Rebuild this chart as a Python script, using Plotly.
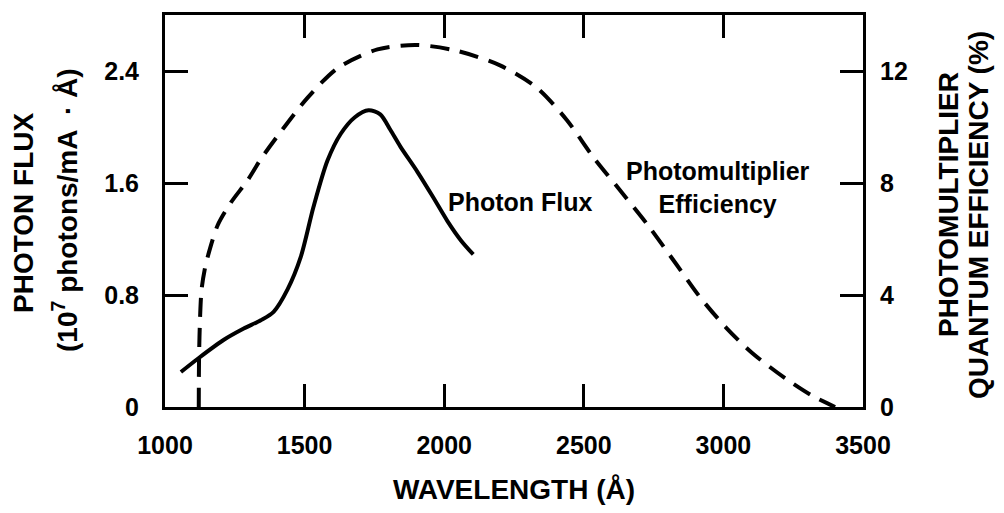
import plotly.graph_objects as go

# ---- data ----
wl_flux = [1057, 1121, 1211, 1282, 1343, 1389, 1439, 1486, 1532, 1582, 1629,
           1680, 1729, 1771, 1807, 1843, 1904, 1960, 2011, 2060, 2104]
photon_flux = [0.25, 0.35, 0.48, 0.56, 0.62, 0.68, 0.84, 1.07, 1.43, 1.76, 1.95,
               2.07, 2.12, 2.09, 1.98, 1.86, 1.68, 1.50, 1.33, 1.19, 1.09]

wl_eff = [1121, 1122, 1126, 1131, 1142, 1155, 1189, 1236, 1296, 1343, 1420,
          1511, 1618, 1761, 1900, 2046, 2200, 2332, 2439, 2532, 2629, 2729,
          2832, 2914, 3011, 3104, 3225, 3318, 3400]
pm_eff = [0.0, 1.8, 3.3, 4.2, 4.9, 5.44, 6.5, 7.3, 8.1, 8.85, 9.9,
          11.05, 12.1, 12.77, 12.93, 12.72, 12.2, 11.4, 10.25, 8.95, 7.75, 6.5,
          5.09, 3.95, 2.82, 1.92, 1.0, 0.4, 0.0]

x_ticks = [1000, 1500, 2000, 2500, 3000, 3500]
y_left_ticks = [0, 0.8, 1.6, 2.4]
y_left_labels = ["0", "0.8", "1.6", "2.4"]
y_right_ticks = [0, 4, 8, 12]
y_right_labels = ["0", "4", "8", "12"]

FONT = "Liberation Sans"
tickfont = dict(family=FONT, size=25, color="black", weight="bold")
titlefont = dict(family=FONT, size=28, color="black", weight="bold")
annfont = dict(family=FONT, size=25, color="black", weight="bold")

fig = go.Figure()
fig.add_trace(go.Scatter(
    x=wl_flux, y=photon_flux, mode="lines", name="Photon Flux",
    line=dict(color="black", width=4, shape="spline", smoothing=0.8),
    yaxis="y", showlegend=False, hoverinfo="skip"))
fig.add_trace(go.Scatter(
    x=wl_eff, y=pm_eff, mode="lines", name="Photomultiplier Efficiency",
    line=dict(color="black", width=4, dash="19px,11px", shape="spline", smoothing=0.8),
    yaxis="y2", showlegend=False, hoverinfo="skip"))

axis_common = dict(showgrid=False, zeroline=False, ticks="inside", ticklen=23,
                   tickwidth=2.5, tickcolor="black", showline=True,
                   linewidth=3, linecolor="black", tickfont=tickfont)

fig.update_layout(
    width=1004, height=513,
    margin=dict(l=165, r=141, t=13, b=101, pad=0),
    paper_bgcolor="white", plot_bgcolor="white",
    xaxis=dict(range=[1000, 3500], tickvals=x_ticks, mirror="ticks",
               ticklabelstandoff=14,
               title=dict(text="WAVELENGTH (Å)", font=titlefont, standoff=22),
               **axis_common),
    yaxis=dict(range=[0, 2.8], tickvals=y_left_ticks, ticktext=y_left_labels,
               mirror=True, ticklabelstandoff=18, **axis_common),
    yaxis2=dict(range=[0, 14], tickvals=y_right_ticks, ticktext=y_right_labels,
                overlaying="y", side="right", ticklabelstandoff=9, **axis_common),
    annotations=[
        dict(text="Photon Flux", x=2275, y=1.467, xref="x", yref="y",
             showarrow=False, font=annfont, xanchor="center", yanchor="middle"),
        dict(text="Photomultiplier<br>Efficiency", x=2982, y=1.57, xref="x", yref="y",
             showarrow=False, font=annfont, xanchor="center", yanchor="middle"),
        dict(text="PHOTON FLUX", x=0, xref="paper", xshift=23 - 165,
             y=0.5, yref="paper", yshift=-2, textangle=-90, showarrow=False,
             font=titlefont, xanchor="center", yanchor="middle"),
        dict(text="(10<sup>7</sup> photons/mA  · Å)", x=0, xref="paper", xshift=65 - 165,
             y=0.5, yref="paper", yshift=1, textangle=-90, showarrow=False,
             font=titlefont, xanchor="center", yanchor="middle"),
        dict(text="PHOTOMULTIPLIER", x=1, xref="paper", xshift=948 - 863,
             y=0.5, yref="paper", yshift=6, textangle=-90, showarrow=False,
             font=titlefont, xanchor="center", yanchor="middle"),
        dict(text="QUANTUM EFFICIENCY (%)", x=1, xref="paper", xshift=978 - 863,
             y=0.5, yref="paper", yshift=-4, textangle=-90, showarrow=False,
             font=titlefont, xanchor="center", yanchor="middle"),
    ],
)

fig.write_html("out.html")
